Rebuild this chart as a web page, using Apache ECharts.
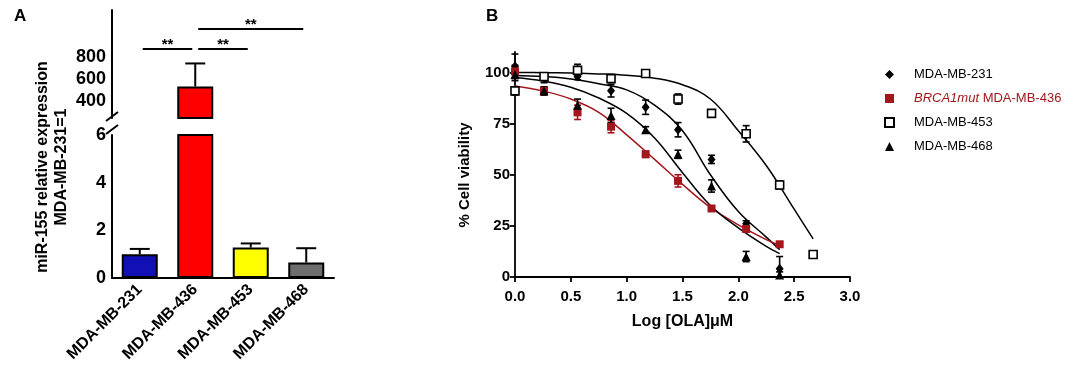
<!DOCTYPE html>
<html>
<head>
<meta charset="utf-8">
<script src="https://cdn.jsdelivr.net/npm/echarts@6/dist/echarts.min.js"></script>
<style>html,body{margin:0;padding:0;background:#fff}#c{width:1084px;height:384px}</style>
</head>
<body>
<div id="c"></div>
<script>
// ---------- Panel A data ----------
const catsA = ['MDA-MB-231', 'MDA-MB-436', 'MDA-MB-453', 'MDA-MB-468'];
const valsA = [1.0, 536, 1.28, 0.65];
const errA = [0.22, 209, 0.17, 0.6];
const ticksTopA = [400, 600, 800];
const sigFrom = [0, 1, 1];
const sigTo = [1, 2, 3];
const sigLevel = [876, 876, 1058];
const sigText = ['**', '**', '**'];

// ---------- Panel B data ----------
const seriesNames = ['MDA-MB-231', 'BRCA1mut MDA-MB-436', 'MDA-MB-453', 'MDA-MB-468'];
const doseX = [0, 0.26, 0.56, 0.86, 1.17, 1.46, 1.76, 2.07, 2.37];
const dose453X = [0, 0.26, 0.56, 0.86, 1.17, 1.46, 1.76, 2.07, 2.37, 2.67];
const via231 = [103, 97, 98, 91, 83, 72, 57.5, 26, 4];
const err231 = [6, 2, 1.5, 3, 3.5, 3.5, 2, 1.5, 6];
const via436 = [100.5, 91, 80.5, 73.5, 60, 47, 33.5, 23.5, 16];
const err436 = [3, 2, 3.5, 3, 1.5, 3, 1, 1.5, 1];
const via453 = [91, 98, 101, 97, 99.5, 87, 80, 70, 45, 11];
const err453 = [2, 1, 3, 2, 1, 2.5, 1, 4, 2, 1];
const via468 = [99, 91, 84, 79, 72, 60, 44.5, 10, 1];
const err468 = [3, 2, 3, 3.5, 1.5, 2, 3, 2.5, 1.5];
const fitX = [0, 0.25, 0.5, 0.75, 1.0, 1.25, 1.5, 1.75, 2.0, 2.25, 2.37];
const fit231 = [98.5, 98, 96.8, 94.5, 91.5, 84, 71.5, 50, 32, 19.5, 13.4];
const fit436 = [93.4, 91, 87, 80.5, 69.5, 57.5, 45.3, 34, 25.5, 18.3, 15.5];
const fit468 = [97.5, 95.8, 92.8, 87.5, 80, 68, 51, 35, 24, 15, 11.4];
const fit453X = [0, 0.25, 0.5, 0.75, 1.0, 1.25, 1.5, 1.75, 2.0, 2.25, 2.5, 2.67];
const fit453 = [100, 99.9, 99.7, 99.3, 98.6, 97.2, 94, 87, 71.5, 54.5, 33.2, 18.6];
const ticksYB = [0, 25, 50, 75, 100];

// ---------- styles ----------
const FONT = "'Liberation Sans', Arial, sans-serif";
const barColors = ['#1010b4', '#ff0000', '#ffff00', '#6e6e6e'];
const DARKRED = '#a3171c';
const topMinA = 250, topMaxA = 1230;

const zip = (xs, ys) => xs.map((x, i) => [x, ys[i]]);
const zip3 = (xs, ys, es) => xs.map((x, i) => [x, ys[i], es[i]]);

const axisLineA = { show: true, lineStyle: { color: '#000', width: 2 } };
const axisLineB = { show: true, lineStyle: { color: '#000', width: 1.8 } };

function errUp(params, api) {
  const i = api.value(0), v = api.value(1), e = api.value(2);
  const p0 = api.coord([i, v]), p1 = api.coord([i, v + e]);
  const hw = 10, st = { stroke: '#000', lineWidth: 2 };
  return { type: 'group', children: [
    { type: 'line', shape: { x1: p0[0], y1: p0[1], x2: p1[0], y2: p1[1] }, style: st },
    { type: 'line', shape: { x1: p1[0] - hw, y1: p1[1], x2: p1[0] + hw, y2: p1[1] }, style: st }
  ]};
}
function errBoth(color) {
  return function (params, api) {
    const x = api.value(0), v = api.value(1), e = api.value(2);
    const pt = api.coord([x, v + e]), pb = api.coord([x, Math.max(0, v - e)]);
    const hw = 3.5, st = { stroke: color, lineWidth: 1.6 };
    return { type: 'group', children: [
      { type: 'line', shape: { x1: pt[0], y1: pt[1], x2: pb[0], y2: pb[1] }, style: st },
      { type: 'line', shape: { x1: pt[0] - hw, y1: pt[1], x2: pt[0] + hw, y2: pt[1] }, style: st },
      { type: 'line', shape: { x1: pb[0] - hw, y1: pb[1], x2: pb[0] + hw, y2: pb[1] }, style: st }
    ]};
  };
}
function sigRender(params, api) {
  const a = api.coord([api.value(0), api.value(2)]);
  const b = api.coord([api.value(1), api.value(2)]);
  const x1 = a[0] + 3, x2 = b[0] - 3;
  return { type: 'group', children: [
    { type: 'line', shape: { x1: x1, y1: a[1], x2: x2, y2: a[1] }, style: { stroke: '#000', lineWidth: 2 } },
    { type: 'text', x: (x1 + x2) / 2, y: a[1] + 3, style: { text: sigText[params.dataIndex], align: 'center', verticalAlign: 'bottom', font: 'bold 15px ' + FONT, fill: '#000' } }
  ]};
}

const chart = echarts.init(document.getElementById('c'), null, { renderer: 'canvas' });
const option = {
  animation: false,
  backgroundColor: '#fff',
  textStyle: { fontFamily: FONT },
  title: [
    { text: 'A', left: 9, top: 3, textStyle: { fontSize: 17, fontWeight: 'bold', color: '#000', fontFamily: FONT } },
    { text: 'B', left: 481, top: 3, textStyle: { fontSize: 17, fontWeight: 'bold', color: '#000', fontFamily: FONT } }
  ],
  grid: [
    { left: 112, top: 10, width: 222, height: 108 },
    { left: 112, top: 135, width: 222, height: 143 },
    { left: 515, top: 52, width: 335, height: 225 }
  ],
  xAxis: [
    { type: 'category', gridIndex: 0, data: catsA, show: false },
    { type: 'category', gridIndex: 1, data: catsA, axisLine: axisLineA,
      axisTick: { alignWithLabel: true, length: 6, lineStyle: { width: 2, color: '#000' } },
      axisLabel: { rotate: 45, interval: 0, margin: 9, fontSize: 16, fontWeight: 'bold', color: '#000', fontFamily: FONT } },
    { type: 'value', gridIndex: 2, min: 0, max: 3, interval: 0.5, axisLine: axisLineB,
      axisTick: { length: 5, lineStyle: { width: 1.8, color: '#000' } },
      splitLine: { show: false },
      axisLabel: { margin: 12, fontSize: 15, fontWeight: 'bold', color: '#000', formatter: v => v.toFixed(1) },
      name: 'Log [OLA]\u03bcM', nameLocation: 'middle', nameGap: 37,
      nameTextStyle: { fontSize: 16, fontWeight: 'bold', color: '#000' } }
  ],
  yAxis: [
    { type: 'value', gridIndex: 0, min: topMinA, max: topMaxA, axisLine: axisLineA,
      splitLine: { show: false },
      axisTick: { customValues: ticksTopA, length: 6, lineStyle: { width: 2, color: '#000' } },
      axisLabel: { customValues: ticksTopA, margin: 6, fontSize: 18, fontWeight: 'bold', color: '#000' } },
    { type: 'value', gridIndex: 1, min: 0, max: 6, interval: 2, axisLine: axisLineA,
      splitLine: { show: false },
      axisTick: { length: 6, lineStyle: { width: 2, color: '#000' } },
      axisLabel: { margin: 6, fontSize: 18, fontWeight: 'bold', color: '#000' } },
    { type: 'value', gridIndex: 2, min: 0, max: 110, axisLine: axisLineB,
      splitLine: { show: false },
      axisTick: { customValues: ticksYB, length: 5, lineStyle: { width: 1.8, color: '#000' } },
      axisLabel: { customValues: ticksYB, margin: 5, fontSize: 15, fontWeight: 'bold', color: '#000' } }
  ],
  legend: {
    orient: 'vertical', left: 879, top: 63, itemWidth: 9, itemHeight: 9, itemGap: 11,
    data: seriesNames.map((n, i) => ({ name: n, textStyle: { color: i === 1 ? DARKRED : '#000' } })),
    formatter: n => n.startsWith('BRCA1mut') ? '{i|BRCA1mut}' + n.slice(8) : n,
    textStyle: { fontSize: 13, color: '#000', fontFamily: FONT, padding: [0, 0, 0, 15],
      rich: { i: { fontStyle: 'italic', color: DARKRED, fontSize: 13, fontFamily: FONT } } }
  },
  graphic: [
    { type: 'text', x: 43, y: 167, rotation: Math.PI / 2,
      style: { text: 'miR-155 relative expression', align: 'center', verticalAlign: 'middle', font: 'bold 16px ' + FONT, fill: '#000' } },
    { type: 'text', x: 62, y: 167, rotation: Math.PI / 2,
      style: { text: 'MDA-MB-231=1', align: 'center', verticalAlign: 'middle', font: 'bold 16px ' + FONT, fill: '#000' } },
    { type: 'text', x: 465, y: 175, rotation: Math.PI / 2,
      style: { text: '% Cell viability', align: 'center', verticalAlign: 'middle', font: 'bold 15px ' + FONT, fill: '#000' } },
    { type: 'line', shape: { x1: 106, y1: 121, x2: 118, y2: 112 }, style: { stroke: '#000', lineWidth: 2 } },
    { type: 'line', shape: { x1: 106, y1: 134, x2: 118, y2: 125 }, style: { stroke: '#000', lineWidth: 2 } }
  ],
  series: [
    // Panel A
    { type: 'bar', xAxisIndex: 0, yAxisIndex: 0, barWidth: 36, clip: true,
      data: valsA.map((v, i) => v > topMinA ? { value: v, itemStyle: { color: barColors[i] } } : '-'),
      itemStyle: { borderColor: '#000', borderWidth: 2 } },
    { type: 'bar', xAxisIndex: 1, yAxisIndex: 1, barWidth: 36, clip: true,
      data: valsA.map((v, i) => ({ value: v, itemStyle: { color: barColors[i] } })),
      itemStyle: { borderColor: '#000', borderWidth: 2 } },
    { type: 'custom', xAxisIndex: 0, yAxisIndex: 0, clip: true, renderItem: errUp,
      data: valsA.map((v, i) => [i, v, errA[i]]).filter(d => d[1] > topMinA), encode: { x: 0, y: 1 } },
    { type: 'custom', xAxisIndex: 1, yAxisIndex: 1, clip: true, renderItem: errUp,
      data: valsA.map((v, i) => [i, v, errA[i]]).filter(d => d[1] <= 6), encode: { x: 0, y: 1 } },
    { type: 'custom', xAxisIndex: 0, yAxisIndex: 0, renderItem: sigRender,
      data: sigFrom.map((f, i) => [f, sigTo[i], sigLevel[i]]), encode: { x: [0, 1], y: 2 } },

    // Panel B fitted curves
    { type: 'line', name: 'fit231', xAxisIndex: 2, yAxisIndex: 2, data: zip(fitX, fit231), smooth: 0.4, showSymbol: false, lineStyle: { color: '#000', width: 1.5 }, z: 2 },
    { type: 'line', name: 'fit436', xAxisIndex: 2, yAxisIndex: 2, data: zip(fitX, fit436), smooth: 0.4, showSymbol: false, lineStyle: { color: DARKRED, width: 1.5 }, z: 2 },
    { type: 'line', name: 'fit453', xAxisIndex: 2, yAxisIndex: 2, data: zip(fit453X, fit453), smooth: 0.4, showSymbol: false, lineStyle: { color: '#000', width: 1.5 }, z: 2 },
    { type: 'line', name: 'fit468', xAxisIndex: 2, yAxisIndex: 2, data: zip(fitX, fit468), smooth: 0.4, showSymbol: false, lineStyle: { color: '#000', width: 1.5 }, z: 2 },

    // Panel B error bars
    { type: 'custom', xAxisIndex: 2, yAxisIndex: 2, renderItem: errBoth('#000'), data: zip3(doseX, via231, err231), encode: { x: 0, y: 1 }, z: 3 },
    { type: 'custom', xAxisIndex: 2, yAxisIndex: 2, renderItem: errBoth(DARKRED), data: zip3(doseX, via436, err436), encode: { x: 0, y: 1 }, z: 3 },
    { type: 'custom', xAxisIndex: 2, yAxisIndex: 2, renderItem: errBoth('#000'), data: zip3(dose453X, via453, err453), encode: { x: 0, y: 1 }, z: 3 },
    { type: 'custom', xAxisIndex: 2, yAxisIndex: 2, renderItem: errBoth('#000'), data: zip3(doseX, via468, err468), encode: { x: 0, y: 1 }, z: 3 },

    // Panel B points
    { type: 'scatter', name: seriesNames[0], xAxisIndex: 2, yAxisIndex: 2, data: zip(doseX, via231), symbol: 'diamond', symbolSize: [8, 10], itemStyle: { color: '#000', opacity: 1 }, z: 4 },
    { type: 'scatter', name: seriesNames[1], xAxisIndex: 2, yAxisIndex: 2, data: zip(doseX, via436), symbol: 'rect', symbolSize: 8, itemStyle: { color: DARKRED, opacity: 1 }, z: 4 },
    { type: 'scatter', name: seriesNames[2], xAxisIndex: 2, yAxisIndex: 2, data: zip(dose453X, via453), symbol: 'rect', symbolSize: 8, itemStyle: { color: '#fff', borderColor: '#000', borderWidth: 1.6, opacity: 1 }, z: 4 },
    { type: 'scatter', name: seriesNames[3], xAxisIndex: 2, yAxisIndex: 2, data: zip(doseX, via468), symbol: 'triangle', symbolSize: 9, itemStyle: { color: '#000', opacity: 1 }, z: 4 }
  ]
};
chart.setOption(option);
</script>
</body>
</html>
